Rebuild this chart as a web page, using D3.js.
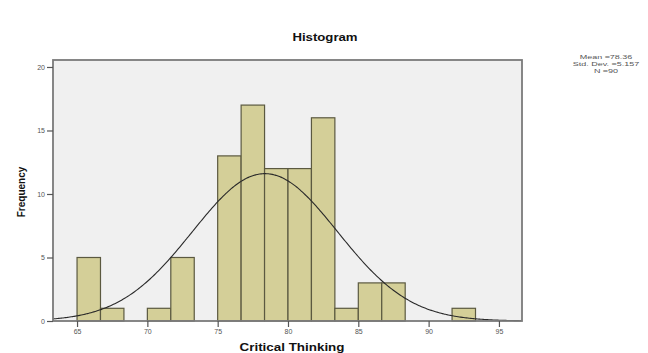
<!DOCTYPE html>
<html>
<head>
<meta charset="utf-8">
<script src="https://cdn.jsdelivr.net/npm/d3@7"></script>
<style>
  body { margin: 0; background: #fff; }
  text { font-family: Arial, "Liberation Sans", sans-serif; }
</style>
</head>
<body>
<script>
// histogram bins (lower edge) and counts
var binStarts = [65, 66.667, 68.333, 70, 71.667, 73.333, 75, 76.667, 78.333, 80, 81.667, 83.333, 85, 86.667, 88.333, 90, 91.667];
var frequencies = [5, 1, 0, 1, 5, 0, 13, 17, 12, 12, 16, 1, 3, 3, 0, 0, 1];
var binWidth = 5 / 3;

var xTicks = [65, 70, 75, 80, 85, 90, 95];
var yTicks = [0, 5, 10, 15, 20];

var mean = 78.36,
    stdDev = 5.157,
    n = 90;

var width = 648,
    height = 353;

var margin = {left: 53, right: 126, top: 60, bottom: 32};

var svg = d3.select("body").append("svg")
    .attr("width", width)
    .attr("height", height);

var x = d3.scaleLinear()
    .domain([63.29, 96.64])
    .range([margin.left, width - margin.right]);

var y = d3.scaleLinear()
    .domain([0, 20.55])
    .range([height - margin.bottom, margin.top]);

// plot background
svg.append("rect")
    .attr("x", margin.left)
    .attr("y", margin.top)
    .attr("width", width - margin.left - margin.right)
    .attr("height", height - margin.top - margin.bottom)
    .style("fill", "#f0f0f0");

// bars
var bins = binStarts.map(function(s, i) {
    return {x0: s, x1: s + binWidth, count: frequencies[i]};
}).filter(function(d) { return d.count > 0; });

svg.append("g")
    .selectAll("rect")
    .data(bins)
    .enter()
    .append("rect")
    .attr("x", function(d) { return x(d.x0); })
    .attr("y", function(d) { return y(d.count); })
    .attr("width", function(d) { return x(d.x1) - x(d.x0); })
    .attr("height", function(d) { return y(0) - y(d.count); })
    .style("fill", "#d4cf98")
    .style("stroke", "#5b5940")
    .style("stroke-width", 1.2);

// normal curve
var scale = n * binWidth;
var xs = d3.range(x.domain()[0], x.domain()[1], 0.1);
var line = d3.line()
    .x(function(d) { return x(d); })
    .y(function(d) {
        var z = (d - mean) / stdDev;
        return y(scale * Math.exp(-0.5 * z * z) / (stdDev * Math.sqrt(2 * Math.PI)));
    })
    .curve(d3.curveBasis);

svg.append("path")
    .datum(xs)
    .attr("d", line)
    .style("fill", "none")
    .style("stroke", "#2a2a2a")
    .style("stroke-width", 1.1);

// frame
svg.append("rect")
    .attr("x", margin.left)
    .attr("y", margin.top)
    .attr("width", width - margin.left - margin.right)
    .attr("height", height - margin.top - margin.bottom)
    .style("fill", "none")
    .style("stroke", "#7a7a7a")
    .style("stroke-width", 1.8);

// axes
var xAxis = svg.append("g")
    .attr("transform", "translate(0," + y(0) + ")")
    .call(d3.axisBottom(x).tickValues(xTicks).tickSize(6).tickPadding(2));

var yAxis = svg.append("g")
    .attr("transform", "translate(" + margin.left + ",0)")
    .call(d3.axisLeft(y).tickValues(yTicks).tickSize(6).tickPadding(2));

[xAxis, yAxis].forEach(function(a) {
    a.select(".domain").remove();
    a.selectAll("line").style("stroke", "#555").style("stroke-width", 1.2);
    a.selectAll("text")
        .style("font-size", "7px")
        .style("fill", "#555");
});

// titles (the picture is stretched sideways a little)
svg.append("text")
    .attr("transform", "translate(325,41) scale(1.2,1)")
    .attr("text-anchor", "middle")
    .style("font-size", "11px")
    .style("font-weight", "bold")
    .style("fill", "#111")
    .text("Histogram");

svg.append("text")
    .attr("transform", "translate(292,351) scale(1.22,1)")
    .attr("text-anchor", "middle")
    .style("font-size", "11px")
    .style("font-weight", "bold")
    .style("fill", "#111")
    .text("Critical Thinking");

svg.append("text")
    .attr("transform", "translate(25,192) rotate(-90)")
    .attr("text-anchor", "middle")
    .style("font-size", "10px")
    .style("font-weight", "bold")
    .style("fill", "#111")
    .text("Frequency");

// stats box
var stats = ["Mean =" + mean.toFixed(2), "Std. Dev. =" + stdDev.toFixed(3), "N =" + n];
svg.append("g")
    .selectAll("text")
    .data(stats)
    .enter()
    .append("text")
    .attr("transform", function(d, i) { return "translate(606," + (59 + i * 7) + ") scale(1.5,1)"; })
    .attr("text-anchor", "middle")
    .style("font-size", "6px")
    .style("fill", "#555")
    .text(function(d) { return d; });
</script>
</body>
</html>
